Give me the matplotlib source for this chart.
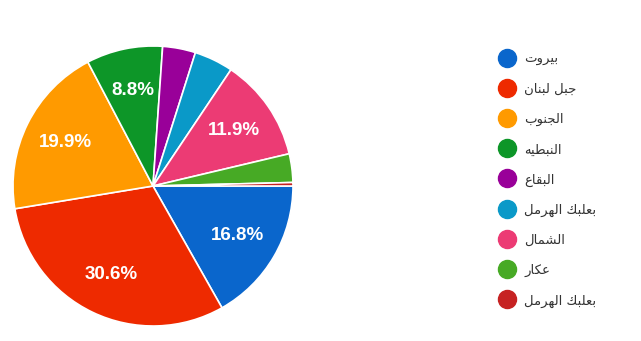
import matplotlib
matplotlib.use("Agg")
import matplotlib.pyplot as plt
from matplotlib.lines import Line2D

labels = ["بيروت", "جبل لبنان", "الجنوب", "النبطيه", "البقاع",
          "بعلبك الهرمل", "الشمال", "عكار", "بعلبك الهرمل"]
values = [16.8, 30.6, 19.9, 8.8, 3.8, 4.5, 11.9, 3.3, 0.4]
colors = ["#0a66cc", "#ee2a00", "#ff9a00", "#0d9628", "#990099",
          "#0a99c8", "#ec3b74", "#47aa25", "#c62222"]

# minimal Arabic shaping (presentation forms) + RTL ordering
FORMS = {
    "ا": ("\uFE8D", "\uFE8E", None, None),
    "ب": ("\uFE8F", "\uFE90", "\uFE91", "\uFE92"),
    "ت": ("\uFE95", "\uFE96", "\uFE97", "\uFE98"),
    "ة": ("\uFE93", "\uFE94", None, None),
    "ج": ("\uFE9D", "\uFE9E", "\uFE9F", "\uFEA0"),
    "د": ("\uFEA9", "\uFEAA", None, None),
    "ر": ("\uFEAD", "\uFEAE", None, None),
    "ش": ("\uFEB5", "\uFEB6", "\uFEB7", "\uFEB8"),
    "ط": ("\uFEC1", "\uFEC2", "\uFEC3", "\uFEC4"),
    "ع": ("\uFEC9", "\uFECA", "\uFECB", "\uFECC"),
    "ق": ("\uFED5", "\uFED6", "\uFED7", "\uFED8"),
    "ك": ("\uFED9", "\uFEDA", "\uFEDB", "\uFEDC"),
    "ل": ("\uFEDD", "\uFEDE", "\uFEDF", "\uFEE0"),
    "م": ("\uFEE1", "\uFEE2", "\uFEE3", "\uFEE4"),
    "ن": ("\uFEE5", "\uFEE6", "\uFEE7", "\uFEE8"),
    "ه": ("\uFEE9", "\uFEEA", "\uFEEB", "\uFEEC"),
    "و": ("\uFEED", "\uFEEE", None, None),
    "ي": ("\uFEF1", "\uFEF2", "\uFEF3", "\uFEF4"),
}


def shape(s):
    out = []
    n = len(s)
    for i, c in enumerate(s):
        if c not in FORMS:
            out.append(c)
            continue
        prev = s[i - 1] if i > 0 else None
        nxt = s[i + 1] if i + 1 < n else None
        jp = prev in FORMS and FORMS[prev][2] is not None
        jn = nxt in FORMS and FORMS[c][2] is not None
        iso, fin, ini, med = FORMS[c]
        if jp and jn:
            out.append(med)
        elif jp:
            out.append(fin)
        elif jn:
            out.append(ini)
        else:
            out.append(iso)
    return "".join(reversed(out))


W, H = 641, 341
fig = plt.figure(figsize=(W / 100, H / 100), dpi=100)
fig.patch.set_facecolor("white")

cx, cy, r = 153, 186, 140
ax = fig.add_axes([(cx - r) / W, 1 - (cy + r) / H, 2 * r / W, 2 * r / H])


def pct(p):
    return f"{p:.1f}%" if p >= 5 else ""


wedges, texts, autotexts = ax.pie(
    values, colors=colors, startangle=0, counterclock=False,
    autopct=pct, pctdistance=0.7,
    wedgeprops=dict(edgecolor="white", linewidth=1.2),
    textprops=dict(color="white", fontsize=13.5, fontfamily="Liberation Sans",
                   fontweight="bold"))
ax.set_aspect("equal")
ax.set_xlim(-1, 1)
ax.set_ylim(-1, 1)

# legend
x0, y0, dy = 507, 57.5, 30.2
for i, (lab, col) in enumerate(zip(labels, colors)):
    y = y0 + i * dy
    fig.add_artist(Line2D([x0 / W], [1 - y / H], marker="o", markersize=13,
                          color=col, markeredgecolor=col, linestyle="none",
                          transform=fig.transFigure))
    fig.text(524 / W, 1 - (y + 2) / H, shape(lab), fontsize=9.5, color="#333333",
             ha="left", va="center", family=["DejaVu Sans"])

fig.savefig("out.png", dpi=100, facecolor="white")
